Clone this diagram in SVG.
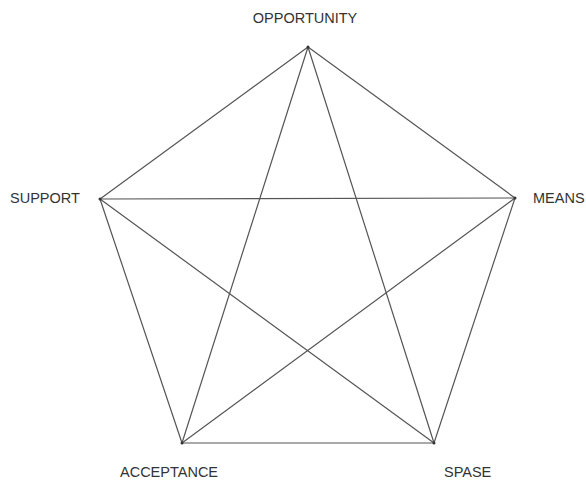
<svg xmlns="http://www.w3.org/2000/svg" width="586" height="481" viewBox="0 0 586 481">
<style>
.e{stroke:#555;stroke-width:1.2;fill:none;stroke-linecap:round}
.t{font-family:"Liberation Sans",Arial,sans-serif;font-size:14.5px;fill:#333}
.v{fill:#333}
</style>
<rect width="586" height="481" fill="#fff"/>
<g id="connectors">
<line class="e" x1="308" y1="47" x2="100" y2="199"/>
<line class="e" x1="308" y1="47" x2="515" y2="198"/>
<line class="e" x1="100" y1="199" x2="182" y2="443"/>
<line class="e" x1="515" y1="198" x2="434" y2="443"/>
<line class="e" x1="182" y1="443" x2="434" y2="443"/>
<line class="e" x1="308" y1="47" x2="182" y2="443"/>
<line class="e" x1="308" y1="47" x2="434" y2="443"/>
<line class="e" x1="100" y1="199" x2="515" y2="198"/>
<line class="e" x1="100" y1="199" x2="434" y2="443"/>
<line class="e" x1="515" y1="198" x2="182" y2="443"/>
</g>
<g id="opportunity"><circle class="v" cx="308" cy="47" r="1.5"/><text class="t" x="305" y="23" text-anchor="middle">OPPORTUNITY</text></g>
<g id="support"><circle class="v" cx="100" cy="199" r="1.5"/><text class="t" x="10" y="203">SUPPORT</text></g>
<g id="means"><circle class="v" cx="515" cy="198" r="1.5"/><text class="t" x="533" y="203">MEANS</text></g>
<g id="acceptance"><circle class="v" cx="182" cy="443" r="1.5"/><text class="t" x="120" y="477">ACCEPTANCE</text></g>
<g id="spase"><circle class="v" cx="434" cy="443" r="1.5"/><text class="t" x="444" y="477">SPASE</text></g>
</svg>
